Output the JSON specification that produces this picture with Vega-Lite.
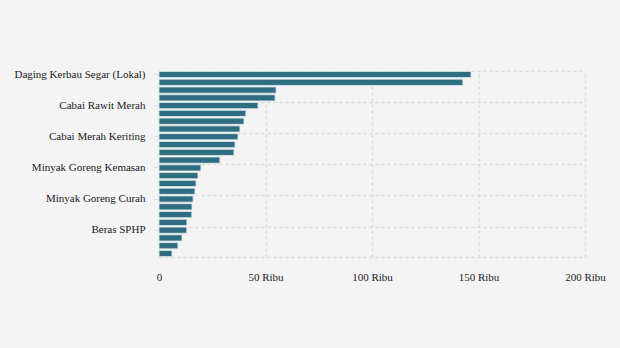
{
  "$schema": "https://vega.github.io/schema/vega-lite/v6.json",
  "autosize": {"type": "none"},
  "width": 426,
  "height": 186,
  "padding": {"left": 159, "top": 71, "right": 35, "bottom": 91},
  "background": "#f4f4f4",
  "config": {
    "view": {"stroke": null},
    "font": "Liberation Serif",
    "axis": {"labelFont": "Liberation Serif", "labelFontSize": 11, "labelColor": "#1a1a1a"}
  },
  "data": {
    "values": [
      {"komoditas": "Daging Kerbau Segar (Lokal)", "harga": 146500},
      {"komoditas": "Daging Sapi Murni", "harga": 142700},
      {"komoditas": "Ikan Kembung", "harga": 55000},
      {"komoditas": "Ikan Tongkol", "harga": 54500},
      {"komoditas": "Cabai Rawit Merah", "harga": 46500},
      {"komoditas": "Bawang Putih Bonggol", "harga": 40800},
      {"komoditas": "Cabai Merah Besar", "harga": 39900},
      {"komoditas": "Daging Ayam Ras", "harga": 38000},
      {"komoditas": "Cabai Merah Keriting", "harga": 37100},
      {"komoditas": "Bawang Merah", "harga": 35700},
      {"komoditas": "Ikan Bandeng", "harga": 35200},
      {"komoditas": "Telur Ayam Ras", "harga": 28600},
      {"komoditas": "Minyak Goreng Kemasan", "harga": 19700},
      {"komoditas": "Gula Konsumsi", "harga": 18300},
      {"komoditas": "Minyakita", "harga": 17400},
      {"komoditas": "Beras Premium", "harga": 16900},
      {"komoditas": "Minyak Goreng Curah", "harga": 16000},
      {"komoditas": "Tepung Terigu Kemasan", "harga": 15500},
      {"komoditas": "Beras Medium", "harga": 15400},
      {"komoditas": "Kedelai Biji Kering (Impor)", "harga": 13100},
      {"komoditas": "Beras SPHP", "harga": 13050},
      {"komoditas": "Garam Konsumsi", "harga": 10800},
      {"komoditas": "Tepung Terigu (Curah)", "harga": 8900},
      {"komoditas": "Jagung Tk Peternak", "harga": 6100}
    ]
  },
  "layer": [
    {
      "mark": {"type": "bar", "opacity": 0},
      "encoding": {
        "y": {
          "field": "komoditas", "type": "nominal", "sort": null,
          "scale": {"paddingInner": 0.2, "paddingOuter": 0.05},
          "axis": {
            "orient": "left", "title": null, "labels": false, "ticks": false, "domain": false,
            "grid": true, "bandPosition": 0, "gridColor": "#dcdcdc", "gridDash": [3, 3], "gridWidth": 1.5,
            "values": ["Daging Kerbau Segar (Lokal)", "Cabai Rawit Merah", "Cabai Merah Keriting", "Minyak Goreng Kemasan", "Minyak Goreng Curah", "Beras SPHP"]
          }
        },
        "x": {"field": "harga", "type": "quantitative"}
      }
    },
    {
      "mark": {"type": "bar", "color": "#2e6e80", "stroke": "#e6eef0", "strokeWidth": 0.8},
      "encoding": {
        "y": {
          "field": "komoditas", "type": "nominal", "sort": null,
          "axis": {
            "orient": "left", "title": null, "grid": false, "domain": false,
            "ticks": true, "tickSize": 5, "tickColor": "#dddddd", "labelPadding": 9,
            "values": ["Daging Kerbau Segar (Lokal)", "Cabai Rawit Merah", "Cabai Merah Keriting", "Minyak Goreng Kemasan", "Minyak Goreng Curah", "Beras SPHP"]
          }
        },
        "x": {
          "field": "harga", "type": "quantitative",
          "scale": {"domain": [0, 200000], "nice": false},
          "axis": {
            "title": null, "values": [0, 50000, 100000, 150000, 200000],
            "labelExpr": "datum.value == 0 ? '0' : (datum.value / 1000) + ' Ribu'",
            "labelFlush": false,
            "ticks": false, "labelPadding": 14,
            "domain": true, "domainColor": "#dcdcdc", "domainDash": [3, 3], "domainWidth": 1.5,
            "grid": true, "gridColor": "#dcdcdc", "gridDash": [3, 3], "gridWidth": 1.5
          }
        }
      }
    }
  ],
  "resolve": {"axis": {"y": "independent"}}
}
